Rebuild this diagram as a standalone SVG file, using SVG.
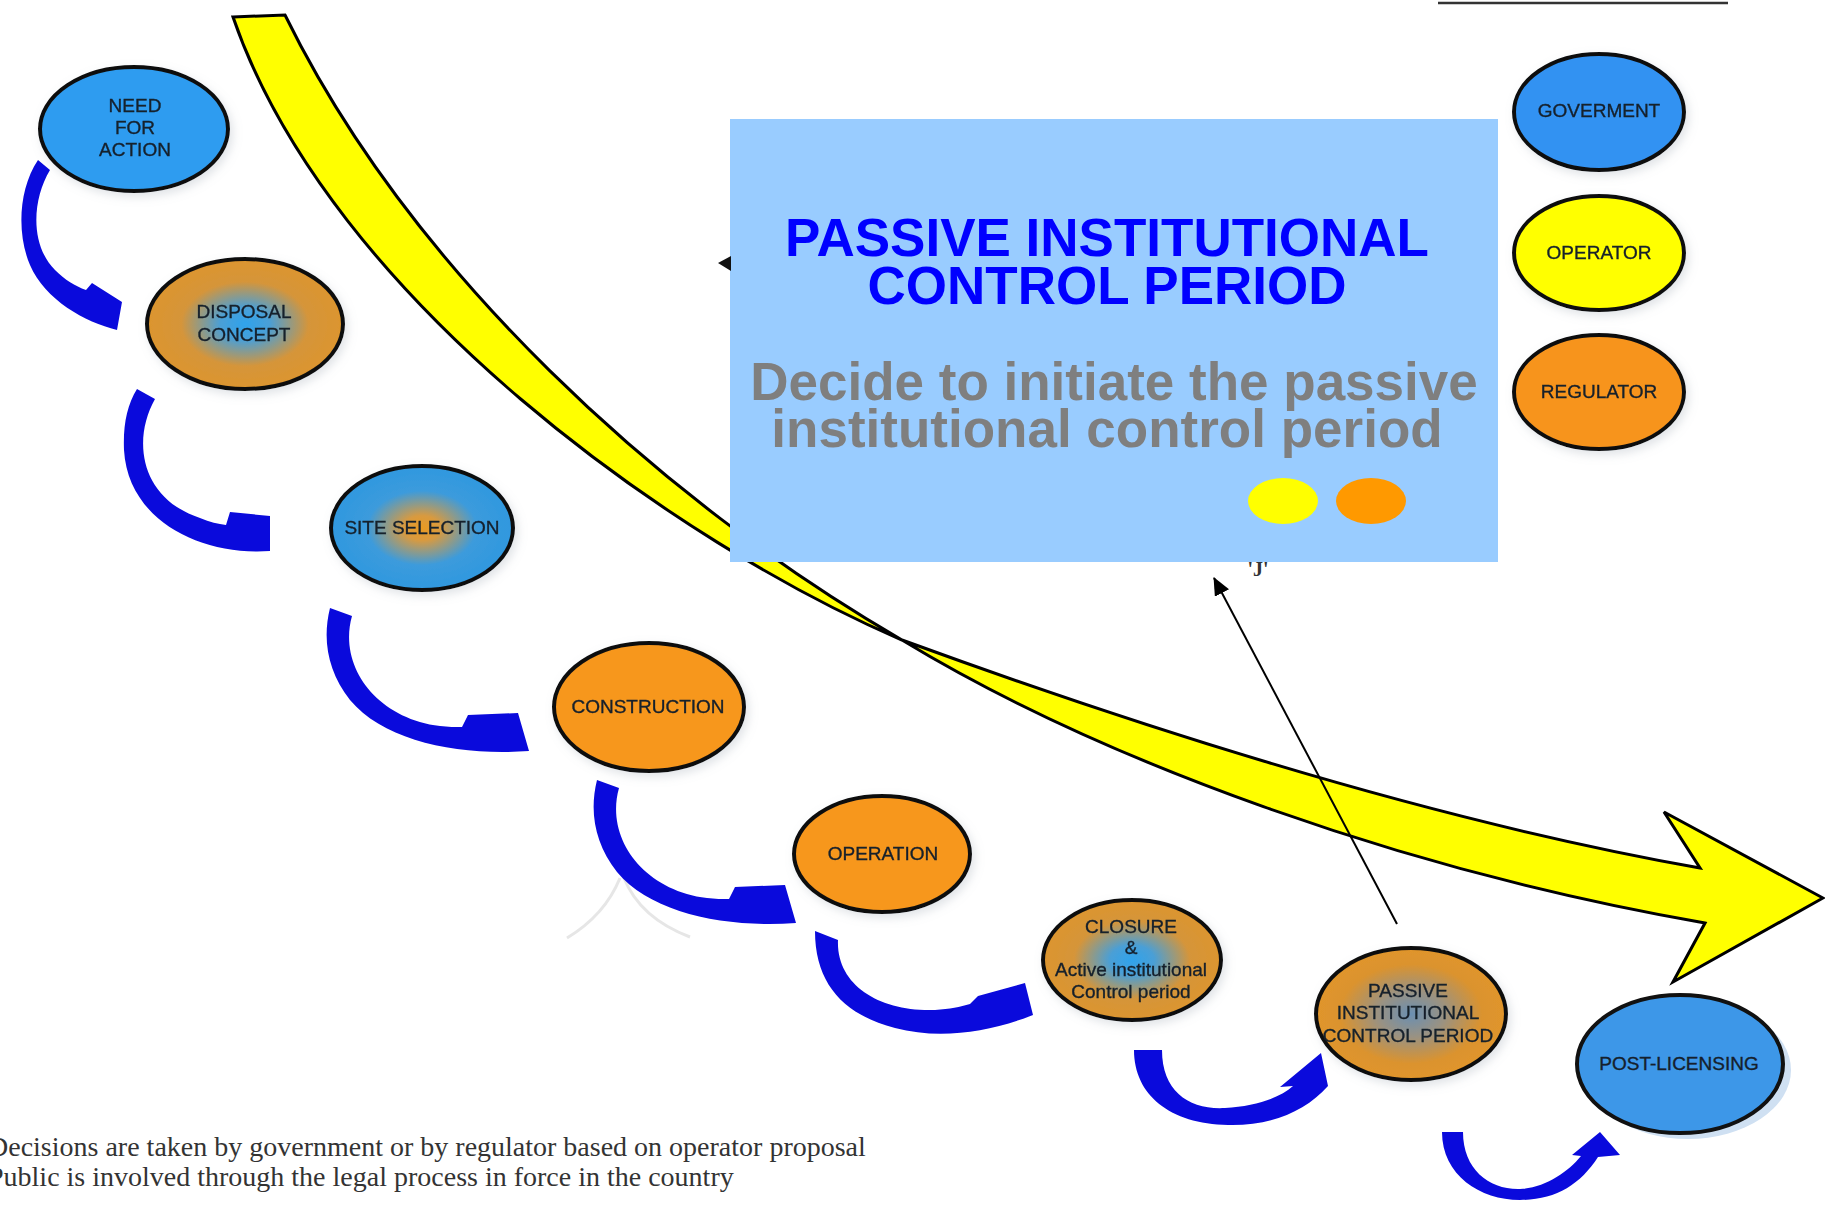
<svg xmlns="http://www.w3.org/2000/svg" width="1825" height="1211" viewBox="0 0 1825 1211">
  <defs>
    <style>
      .node { stroke: #111; stroke-width: 4; }
      .lbl { font-family: "Liberation Sans", Arial, sans-serif; font-size: 19px; fill: #15202c; stroke: #15202c; stroke-width: 0.35; text-anchor: middle; }
      .flow { fill: #0a0adc; }
      .title { font-family: "Liberation Sans", Arial, sans-serif; font-weight: bold; font-size: 53px; fill: #0000ff; text-anchor: middle; }
      .sub { font-family: "Liberation Sans", Arial, sans-serif; font-weight: bold; font-size: 53px; fill: #7f7f7f; text-anchor: middle; }
      .note { font-family: "Liberation Serif", "Times New Roman", serif; font-size: 28px; fill: #333; }
    </style>
    <radialGradient id="gBlueCore" cx="50%" cy="50%" r="50%">
      <stop offset="0" stop-color="#2fa3ec"/>
      <stop offset="0.25" stop-color="#4a9fd6"/>
      <stop offset="0.65" stop-color="#d5953a"/>
      <stop offset="1" stop-color="#dc952e"/>
    </radialGradient>
    <radialGradient id="gOrangeCore" cx="50%" cy="50%" r="50%">
      <stop offset="0" stop-color="#e99a22"/>
      <stop offset="0.2" stop-color="#d89a40"/>
      <stop offset="0.6" stop-color="#3c9bdc"/>
      <stop offset="1" stop-color="#2f98df"/>
    </radialGradient>
    <radialGradient id="gGreyCore" cx="50%" cy="50%" r="50%">
      <stop offset="0" stop-color="#6a8fb2"/>
      <stop offset="0.35" stop-color="#9a9282"/>
      <stop offset="0.75" stop-color="#db932e"/>
      <stop offset="1" stop-color="#e0952c"/>
    </radialGradient>
    <filter id="shade" x="-20%" y="-20%" width="140%" height="150%">
      <feGaussianBlur in="SourceAlpha" stdDeviation="5"/>
      <feOffset dx="3" dy="4" result="b"/>
      <feFlood flood-color="#9aa4b0" flood-opacity="0.3"/>
      <feComposite in2="b" operator="in"/>
      <feMerge><feMergeNode/><feMergeNode in="SourceGraphic"/></feMerge>
    </filter>
    <marker id="tip" markerUnits="userSpaceOnUse" markerWidth="18" markerHeight="16" refX="17" refY="8" orient="auto">
      <path d="M0,0 L18,8 L0,16 z" fill="#000"/>
    </marker>
  </defs>

  <rect width="1825" height="1211" fill="#fff"/>

  <!-- underline of a heading running off the top edge -->
  <line x1="1438" y1="3" x2="1728" y2="3" stroke="#333" stroke-width="2.5"/>

  <!-- faint pencil marks -->
  <path d="M567,938 Q605,915 620,878 M624,878 Q640,918 690,937" fill="none" stroke="#e6e6e6" stroke-width="3"/>

  <!-- big yellow timeline arrow -->
  <path id="timeline" d="M233,17 L285,15 C410,270 660,500 902,640 C1080,705 1400,815 1700,868 L1664,812 L1823,898 L1673,982 L1705,923 C1400,870 1100,760 902,640 C680,545 330,300 233,17 Z" fill="#ffff00" stroke="#000" stroke-width="3" stroke-linejoin="miter"/>

  <text x="1258" y="576" font-family="Liberation Serif, serif" font-weight="bold" font-size="20" fill="#333" text-anchor="middle">'J'</text>

  <!-- callout panel -->
  <g id="callout">
    <rect x="730" y="119" width="768" height="443" fill="#99ccff"/>
    <text class="title" x="1107" y="256">PASSIVE INSTITUTIONAL</text>
    <text class="title" x="1107" y="304">CONTROL PERIOD</text>
    <text class="sub" x="1114" y="400">Decide to initiate the passive</text>
    <text class="sub" x="1107" y="447">institutional control period</text>
    <ellipse cx="1283" cy="501" rx="35" ry="23" fill="#ffff00"/>
    <ellipse cx="1371" cy="501" rx="35" ry="23" fill="#ff9900"/>
  </g>
  <path d="M718,263 L731,256 L731,271 Z" fill="#111"/>

  <!-- process steps -->
  <g id="need-for-action" filter="url(#shade)">
    <ellipse class="node" cx="134" cy="129" rx="94" ry="62" fill="#2f9cf0"/>
    <text class="lbl" x="135" y="112">NEED</text>
    <text class="lbl" x="135" y="134">FOR</text>
    <text class="lbl" x="135" y="156">ACTION</text>
  </g>
  <g id="disposal-concept" filter="url(#shade)">
    <ellipse class="node" cx="245" cy="324" rx="98" ry="65" fill="url(#gBlueCore)"/>
    <text class="lbl" x="244" y="318">DISPOSAL</text>
    <text class="lbl" x="244" y="341">CONCEPT</text>
  </g>
  <g id="site-selection" filter="url(#shade)">
    <ellipse class="node" cx="422" cy="528" rx="91" ry="62" fill="url(#gOrangeCore)"/>
    <text class="lbl" x="422" y="534">SITE SELECTION</text>
  </g>
  <g id="construction" filter="url(#shade)">
    <ellipse class="node" cx="649" cy="707" rx="95" ry="64" fill="#f7971e"/>
    <text class="lbl" x="648" y="713">CONSTRUCTION</text>
  </g>
  <g id="operation" filter="url(#shade)">
    <ellipse class="node" cx="882" cy="854" rx="88" ry="58" fill="#f7971e"/>
    <text class="lbl" x="883" y="860">OPERATION</text>
  </g>
  <g id="closure" filter="url(#shade)">
    <ellipse class="node" cx="1132" cy="960" rx="89" ry="60" fill="url(#gBlueCore)"/>
    <text class="lbl" x="1131" y="933">CLOSURE</text>
    <text class="lbl" x="1131" y="954">&amp;</text>
    <text class="lbl" x="1131" y="976">Active institutional</text>
    <text class="lbl" x="1131" y="998">Control period</text>
  </g>
  <g id="passive-institutional-control-period" filter="url(#shade)">
    <ellipse class="node" cx="1411" cy="1014" rx="95" ry="66" fill="url(#gGreyCore)"/>
    <text class="lbl" x="1408" y="997">PASSIVE</text>
    <text class="lbl" x="1408" y="1019">INSTITUTIONAL</text>
    <text class="lbl" x="1408" y="1042">CONTROL PERIOD</text>
  </g>
  <g id="post-licensing">
    <ellipse cx="1688" cy="1070" rx="103" ry="69" fill="#cfe0f2"/>
    <ellipse class="node" cx="1680" cy="1064" rx="103" ry="69" fill="#3d97e8"/>
    <text class="lbl" x="1679" y="1070">POST-LICENSING</text>
  </g>

  <!-- actors legend -->
  <g id="goverment" filter="url(#shade)">
    <ellipse class="node" cx="1599" cy="112" rx="85" ry="58" fill="#3392f2"/>
    <text class="lbl" x="1599" y="117">GOVERMENT</text>
  </g>
  <g id="operator" filter="url(#shade)">
    <ellipse class="node" cx="1599" cy="253" rx="85" ry="57" fill="#ffff00"/>
    <text class="lbl" x="1599" y="259">OPERATOR</text>
  </g>
  <g id="regulator" filter="url(#shade)">
    <ellipse class="node" cx="1599" cy="392" rx="85" ry="57" fill="#f7941d"/>
    <text class="lbl" x="1599" y="398">REGULATOR</text>
  </g>

  <!-- connectors -->
  <g id="connectors">
    <path class="flow" d="M38,160 L50,170 C32,200 30,245 55,270 C65,280 75,286 86,290 L92,283 L122,302 L117,330 C85,322 45,300 30,265 C17,235 18,190 38,160 Z"/>
    <path class="flow" d="M137,389 L155,399 C132,440 140,498 200,518 C210,522 218,524 226,525 L230,512 L270,516 L270,551 C200,556 128,520 124,450 C123,425 127,405 137,389 Z"/>
    <path id="step-arrow" class="flow" d="M330,608 L352,616 C338,665 375,718 440,726 C448,727 455,727 462,727 L468,715 L518,713 L529,751 C460,756 385,742 350,700 C328,672 322,640 330,608 Z"/>
    <use href="#step-arrow" transform="translate(267,172)"/>
    <path class="flow" d="M815,931 L838,940 C836,985 880,1012 935,1010 C950,1009 960,1007 970,1004 L978,996 L1025,983 L1033,1015 C990,1032 940,1040 895,1028 C845,1015 815,985 815,931 Z"/>
    <path class="flow" d="M1134,1050 L1162,1050 C1162,1092 1190,1110 1225,1108 C1255,1106 1280,1098 1293,1086 L1280,1087 L1321,1053 L1328,1086 C1305,1112 1270,1126 1228,1125 C1170,1124 1134,1095 1134,1050 Z"/>
    <path class="flow" d="M1442,1132 L1463,1132 C1463,1170 1490,1190 1520,1189 C1545,1188 1568,1172 1581,1156 L1572,1155 L1600,1132 L1620,1155 L1598,1157 C1580,1185 1555,1200 1520,1200 C1480,1200 1442,1175 1442,1132 Z"/>
    <line x1="1397" y1="924" x2="1214" y2="578" stroke="#000" stroke-width="2" marker-end="url(#tip)"/>
  </g>

  <!-- footnotes -->
  <text class="note" x="-12" y="1156">Decisions are taken by government or by regulator based on operator proposal</text>
  <text class="note" x="-12" y="1186">Public is involved through the legal process in force in the country</text>
</svg>
